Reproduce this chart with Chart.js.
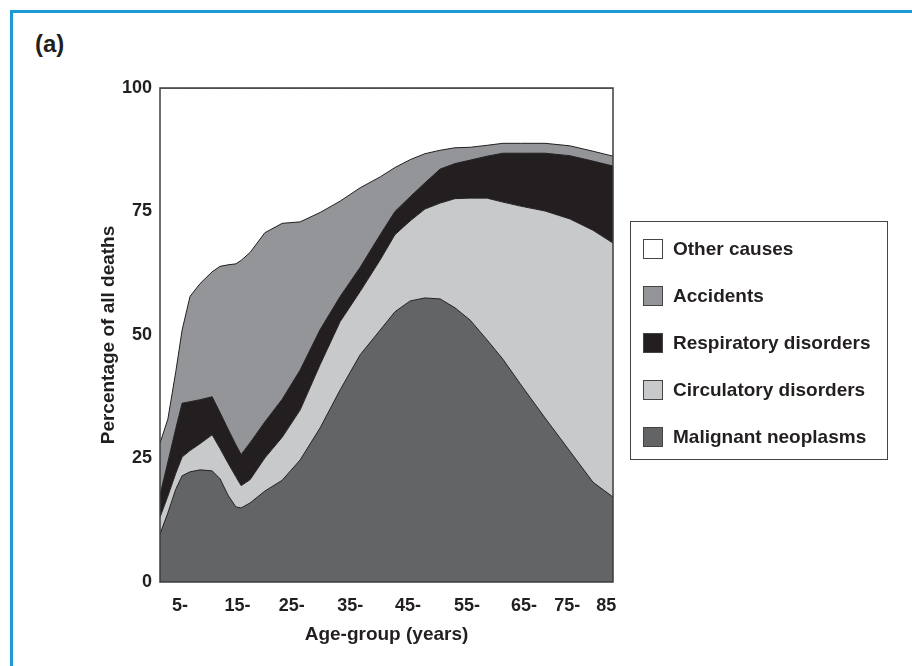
<!DOCTYPE html>
<html>
<head>
<meta charset="utf-8">
<script src="https://cdn.jsdelivr.net/npm/chart.js@4.4.1/dist/chart.umd.min.js"></script>
<style>
  html, body { margin: 0; padding: 0; background: #fff; overflow: hidden; }
  #wrap { position: relative; width: 912px; height: 666px; overflow: hidden; background: #fff; }
  #frame { position: absolute; left: 10px; top: 10px; width: 1000px; height: 1000px; border: 3px solid #1b9ad6; }
  #panel { position: absolute; left: 35px; top: 30px; font: bold 24px "Liberation Sans", Arial, sans-serif; color: #231f20; }
  #chart { position: absolute; left: 0; top: 0; }
  #legend { position: absolute; left: 630px; top: 221px; width: 258px; height: 239px; box-sizing: border-box;
            border: 1.5px solid #444; padding-top: 3px; font: bold 19px "Liberation Sans", Arial, sans-serif; color: #231f20; }
  .item { height: 47px; display: flex; align-items: center; padding-left: 12px; }
  .swatch { width: 20px; height: 20px; box-sizing: border-box; border: 1px solid #444; margin-right: 10px; }
</style>
</head>
<body>
<div id="wrap">
  <div id="frame"></div>
  <div id="panel">(a)</div>
  <canvas id="chart" width="912" height="666"></canvas>
  <div id="legend"></div>
</div>
<script>
// position of each sample along the drawn age axis
const agePos = [0, 1.5, 3.0, 4.2, 5.7, 7.6, 9.9, 11.4, 12.9, 14.4, 15.4, 17.1, 19.9, 23.2, 26.6, 30.4,
  34.2, 38.0, 41.8, 44.6, 47.5, 50.3, 53.2, 56.0, 58.9, 62.1, 65.1, 68.4, 73.1, 77.8, 82.2, 86.0]

// % of all deaths
const malignant = [9.7, 14.0, 18.8, 21.5, 22.3, 22.7, 22.5, 20.9, 17.6, 15.2, 15.0, 16.0, 18.4, 20.6, 24.7, 31.2,
  38.9, 46.0, 51.0, 54.7, 56.9, 57.5, 57.3, 55.5, 53.0, 49.0, 45.1, 40.1, 33.2, 26.5, 20.2, 17.2]
const circulatory = [3.4, 3.4, 3.2, 3.8, 4.3, 5.3, 7.3, 6.1, 6.5, 6.1, 4.5, 4.7, 6.7, 8.7, 10.1, 12.8,
  13.8, 12.8, 14.2, 15.6, 16.2, 18.0, 19.4, 22.1, 24.7, 28.7, 31.8, 36.0, 41.9, 47.0, 51.0, 51.4]
const respiratory = [4.5, 6.9, 9.1, 10.9, 9.9, 8.9, 7.7, 7.3, 6.9, 6.5, 6.3, 7.5, 7.3, 7.7, 8.1, 7.1,
  5.1, 4.9, 5.1, 4.7, 4.9, 5.3, 6.9, 7.1, 7.7, 8.5, 9.9, 10.7, 11.7, 12.8, 14.0, 15.6]
const accidents = [10.5, 8.7, 11.5, 14.8, 21.3, 23.5, 25.3, 29.6, 33.2, 36.6, 39.3, 38.5, 38.3, 35.6, 30.0, 23.7,
  19.3, 16.1, 11.7, 8.9, 7.5, 5.9, 3.8, 3.2, 2.6, 2.2, 2.0, 2.0, 2.0, 2.0, 2.0, 2.0]
const otherCauses = [71.9, 67.0, 57.4, 49.0, 42.2, 39.6, 37.2, 36.1, 35.8, 35.6, 34.9, 33.3, 29.3, 27.4, 27.1, 25.2,
  22.9, 20.2, 18.0, 16.1, 14.5, 13.3, 12.6, 12.1, 12.0, 11.6, 11.2, 11.2, 11.2, 11.7, 12.8, 13.8]

const xTickPos = [3.8, 14.7, 25.0, 36.1, 47.1, 58.3, 69.1, 77.3, 84.7]
const xTickLabels = ['5-', '15-', '25-', '35-', '45-', '55-', '65-', '75-', '85']
const yTicks = [0, 25, 50, 75, 100]

const FONT = '"Liberation Sans", Arial, sans-serif'
const INK = '#231f20'

const series = [
  { label: 'Malignant neoplasms', values: malignant, color: '#636466' },
  { label: 'Circulatory disorders', values: circulatory, color: '#c8c9cb' },
  { label: 'Respiratory disorders', values: respiratory, color: '#231f20' },
  { label: 'Accidents', values: accidents, color: '#939598' },
  { label: 'Other causes', values: otherCauses, color: '#ffffff' }
]

const plotBox = {
  id: 'plotBox',
  afterDatasetsDraw(chart) {
    const { ctx, chartArea: { left, top, width, height } } = chart
    ctx.save()
    ctx.strokeStyle = '#3c3c3e'
    ctx.lineWidth = 1.5
    ctx.strokeRect(left, top, width, height)
    ctx.restore()
  }
}

const chart = new Chart(document.getElementById('chart'), {
  type: 'line',
  data: {
    datasets: series.map((s, i) => ({
      label: s.label,
      data: s.values.map((v, j) => ({ x: agePos[j], y: v })),
      backgroundColor: s.color,
      borderColor: INK,
      borderWidth: 1,
      fill: i === 0 ? 'origin' : '-1',
      pointRadius: 0,
      tension: 0
    }))
  },
  options: {
    responsive: false,
    animation: false,
    devicePixelRatio: 1,
    layout: { padding: { top: 88, right: 299, bottom: 0, left: 0 } },
    scales: {
      x: {
        type: 'linear',
        min: 0,
        max: 86,
        afterBuildTicks(s) { s.ticks = xTickPos.map(v => ({ value: v })) },
        afterFit(s) { s.height = 84 },
        grid: { display: false, drawTicks: false },
        border: { display: false },
        ticks: {
          autoSkip: false,
          maxRotation: 0,
          padding: 13,
          color: INK,
          font: { family: FONT, size: 18, weight: 'bold' },
          callback: (v) => xTickLabels[xTickPos.indexOf(v)]
        },
        title: {
          display: true,
          text: 'Age-group (years)',
          color: INK,
          font: { family: FONT, size: 19, weight: 'bold' },
          padding: { top: 0, bottom: 20 }
        }
      },
      y: {
        stacked: true,
        min: 0,
        max: 100,
        afterBuildTicks(s) { s.ticks = yTicks.map(v => ({ value: v })) },
        afterFit(s) { s.width = 160 },
        grid: { display: false, drawTicks: false },
        border: { display: false },
        ticks: {
          padding: 8,
          color: INK,
          font: { family: FONT, size: 18, weight: 'bold' }
        },
        title: {
          display: true,
          text: 'Percentage of all deaths',
          color: INK,
          font: { family: FONT, size: 19, weight: 'bold' },
          padding: { top: 97, bottom: 0 }
        }
      }
    },
    plugins: {
      legend: { display: false },
      tooltip: { enabled: false }
    }
  },
  plugins: [plotBox]
})

const legend = document.getElementById('legend')
chart.data.datasets.slice().reverse().forEach(ds => {
  const item = document.createElement('div')
  item.className = 'item'
  const sw = document.createElement('div')
  sw.className = 'swatch'
  sw.style.background = ds.backgroundColor
  const txt = document.createElement('span')
  txt.textContent = ds.label
  item.appendChild(sw)
  item.appendChild(txt)
  legend.appendChild(item)
})
</script>
</body>
</html>
